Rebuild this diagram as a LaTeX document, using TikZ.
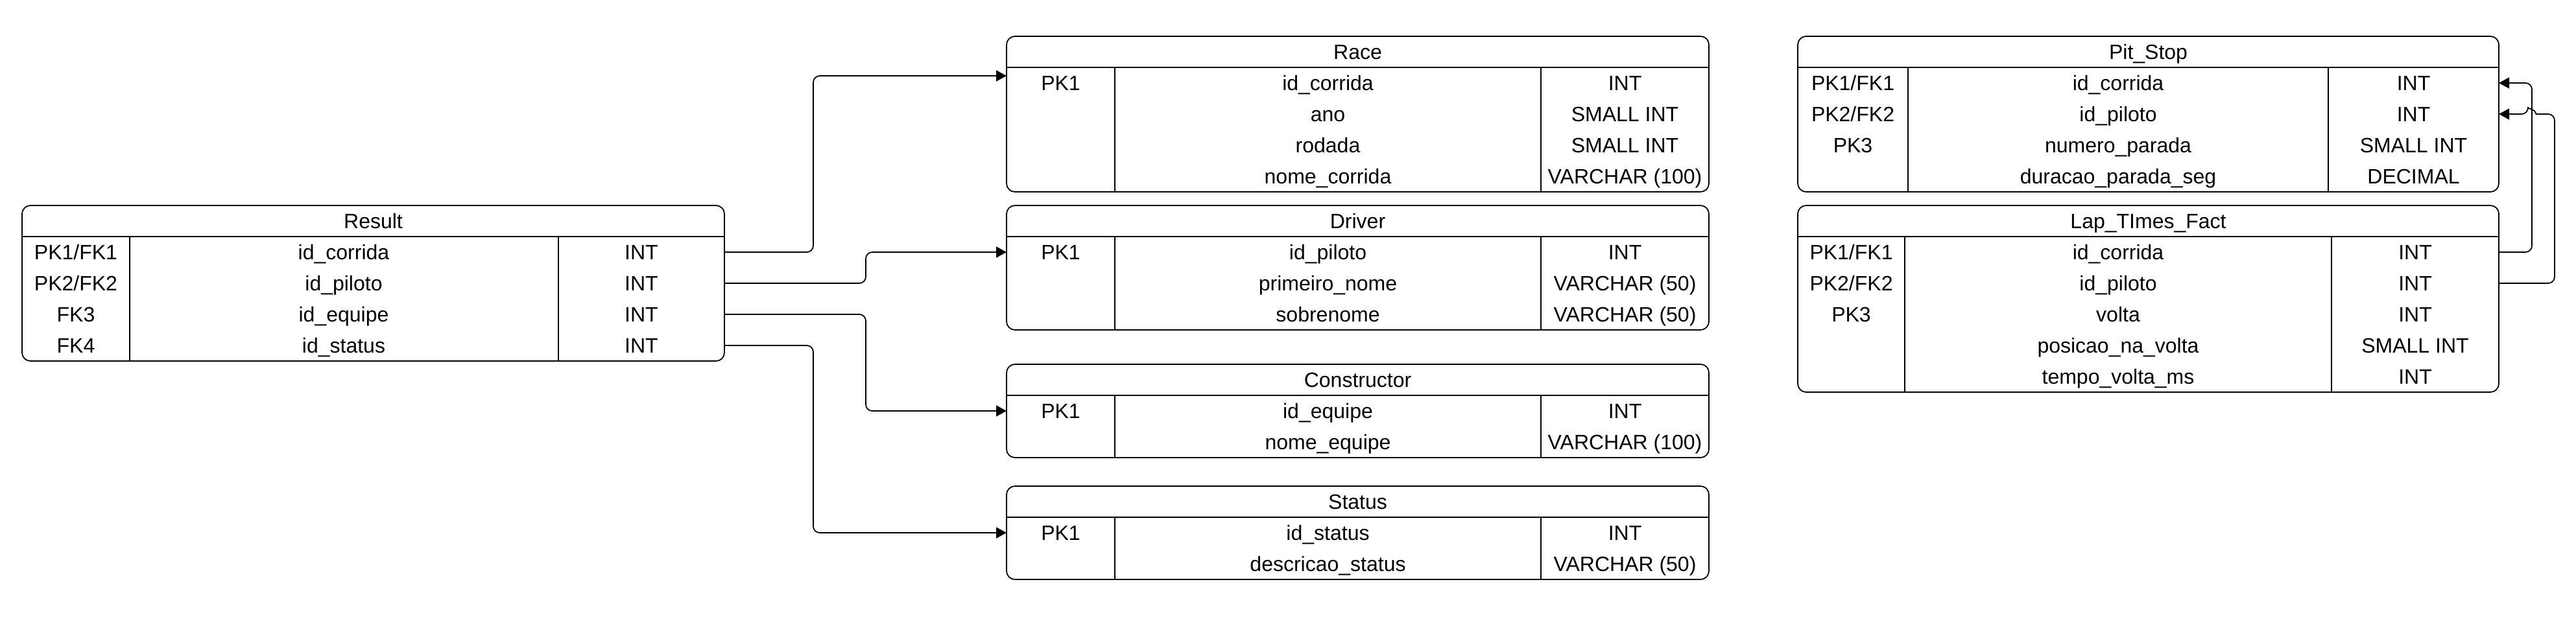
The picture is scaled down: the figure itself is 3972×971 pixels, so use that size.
\documentclass[tikz,border=0pt]{standalone}
\usepackage{fontspec}
\setmainfont{Liberation Sans}
\usetikzlibrary{arrows.meta}
\tikzset{
  frame/.style={draw, line width=0.9pt, rounded corners=6.5pt, inner sep=0pt, outer sep=0pt},
  sepline/.style={line width=0.9pt},
  cell/.style={inner sep=0pt, text height=11.5pt, text depth=0pt, font=\fontsize{16pt}{19pt}\selectfont},
  link/.style={line width=0.9pt, rounded corners=5pt},
  linkarrow/.style={link, -{Triangle[length=8pt,width=8.5pt]}},
}
% #1 name, #2 left, #3 top, #4 right, #5 bottom, #6 divider 1, #7 divider 2, #8 title
\newcommand\erFrame[8]{%
  \node[frame, anchor=north west, minimum width={(#4-#2)*0.5pt}, minimum height={(#5-#3)*0.5pt}] (#1) at (#2,#3) {};
  \node[cell] (#1-title) at ({(#2+#4)/2},{#3+24}) {#8};
  \draw[sepline] (#2,{#3+48}) -- (#4,{#3+48});
  \draw[sepline] (#6,{#3+48}) -- (#6,#5);
  \draw[sepline] (#7,{#3+48}) -- (#7,#5);
}
% #1 name, #2 row, #3 y, #4 #5 #6 column centres, #7 key, #8 field, #9 type
\newcommand\erRow[9]{%
  \node[cell] (#1-k#2) at (#4,#3) {#7};
  \node[cell] (#1-f#2) at (#5,#3) {#8};
  \node[cell] (#1-t#2) at (#6,#3) {#9};
}
\begin{document}
\begin{tikzpicture}[x=0.5pt, y=-0.5pt]
\useasboundingbox (0,0) rectangle (3972,971);

% Result
\erFrame{result}{34}{317}{1117}{557}{200}{861}{Result}
\erRow{result}{1}{389}{117}{530}{989}{PK1/FK1}{id\_corrida}{INT}
\erRow{result}{2}{437}{117}{530}{989}{PK2/FK2}{id\_piloto}{INT}
\erRow{result}{3}{485}{117}{530}{989}{FK3}{id\_equipe}{INT}
\erRow{result}{4}{533}{117}{530}{989}{FK4}{id\_status}{INT}

% Race
\erFrame{race}{1552}{56}{2635}{296}{1719}{2376}{Race}
\erRow{race}{1}{128}{1635.5}{2047.5}{2505.5}{PK1}{id\_corrida}{INT}
\erRow{race}{2}{176}{1635.5}{2047.5}{2505.5}{}{ano}{SMALL INT}
\erRow{race}{3}{224}{1635.5}{2047.5}{2505.5}{}{rodada}{SMALL INT}
\erRow{race}{4}{272}{1635.5}{2047.5}{2505.5}{}{nome\_corrida}{VARCHAR (100)}

% Driver
\erFrame{driver}{1552}{317}{2635}{509}{1719}{2376}{Driver}
\erRow{driver}{1}{389}{1635.5}{2047.5}{2505.5}{PK1}{id\_piloto}{INT}
\erRow{driver}{2}{437}{1635.5}{2047.5}{2505.5}{}{primeiro\_nome}{VARCHAR (50)}
\erRow{driver}{3}{485}{1635.5}{2047.5}{2505.5}{}{sobrenome}{VARCHAR (50)}

% Constructor
\erFrame{constructor}{1552}{562}{2635}{706}{1719}{2376}{Constructor}
\erRow{constructor}{1}{634}{1635.5}{2047.5}{2505.5}{PK1}{id\_equipe}{INT}
\erRow{constructor}{2}{682}{1635.5}{2047.5}{2505.5}{}{nome\_equipe}{VARCHAR (100)}

% Status
\erFrame{status}{1552}{750}{2635}{894}{1719}{2376}{Status}
\erRow{status}{1}{822}{1635.5}{2047.5}{2505.5}{PK1}{id\_status}{INT}
\erRow{status}{2}{870}{1635.5}{2047.5}{2505.5}{}{descricao\_status}{VARCHAR (50)}

% Pit_Stop
\erFrame{pit}{2772}{56}{3853}{296}{2942}{3590}{Pit\_Stop}
\erRow{pit}{1}{128}{2857}{3266}{3721.5}{PK1/FK1}{id\_corrida}{INT}
\erRow{pit}{2}{176}{2857}{3266}{3721.5}{PK2/FK2}{id\_piloto}{INT}
\erRow{pit}{3}{224}{2857}{3266}{3721.5}{PK3}{numero\_parada}{SMALL INT}
\erRow{pit}{4}{272}{2857}{3266}{3721.5}{}{duracao\_parada\_seg}{DECIMAL}

% Lap_TImes_Fact
\erFrame{lap}{2772}{317}{3853}{605}{2937}{3595}{Lap\_TImes\_Fact}
\erRow{lap}{1}{389}{2854.5}{3266}{3724}{PK1/FK1}{id\_corrida}{INT}
\erRow{lap}{2}{437}{2854.5}{3266}{3724}{PK2/FK2}{id\_piloto}{INT}
\erRow{lap}{3}{485}{2854.5}{3266}{3724}{PK3}{volta}{INT}
\erRow{lap}{4}{533}{2854.5}{3266}{3724}{}{posicao\_na\_volta}{SMALL INT}
\erRow{lap}{5}{581}{2854.5}{3266}{3724}{}{tempo\_volta\_ms}{INT}

% bend columns
\coordinate (bxA) at (1254,0);
\coordinate (bxB) at (1335,0);
\coordinate (bxC) at (3904,0);
\coordinate (bxD) at (3939,0);
\coordinate (hopR) at (3910,0);
\coordinate (hopL) at (3898,0);
\coordinate (raceIn) at (1552,117);

% connectors
\draw[linkarrow] (result-t1 -| result.east) -| (raceIn -| bxA) -- (raceIn);
\draw[linkarrow] (result-t2 -| result.east) -| (driver-t1 -| bxB) -- (driver-t1 -| driver.west);
\draw[linkarrow] (result-t3 -| result.east) -| (constructor-t1 -| bxB) -- (constructor-t1 -| constructor.west);
\draw[linkarrow] (result-t4 -| result.east) -| (status-t1 -| bxA) -- (status-t1 -| status.west);

\draw[linkarrow] (lap-t1 -| lap.east) -| (pit-t1 -| bxC) -- (pit-t1 -| pit.east);
\draw[link] (lap-t2 -| lap.east) -| (pit-t2 -| bxD) -- (pit-t2 -| hopR);
\draw[linkarrow] (pit-t2 -| hopR) .. controls +(0,-8) and +(0,-8) .. (pit-t2 -| hopL) -- (pit-t2 -| pit.east);
\end{tikzpicture}
\end{document}
